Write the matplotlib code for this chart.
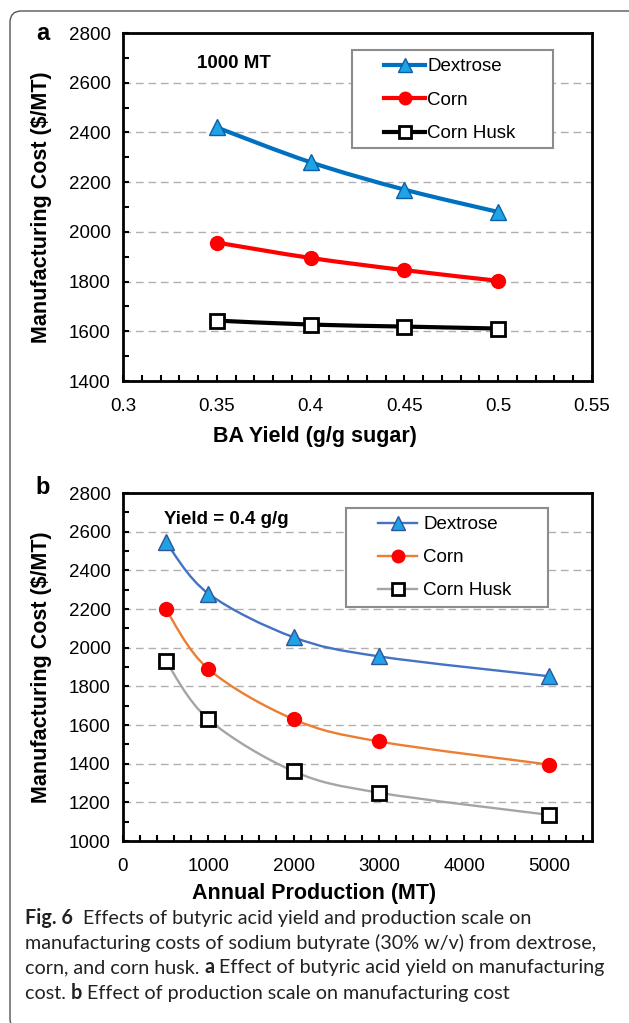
import numpy as np
import matplotlib
matplotlib.use('Agg')
import matplotlib.pyplot as plt
from matplotlib.patches import FancyBboxPatch, Rectangle, PathPatch
from matplotlib.path import Path
from matplotlib.lines import Line2D
from matplotlib.ticker import MultipleLocator, FuncFormatter

plt.rcParams['font.family'] = ['Liberation Sans', 'DejaVu Sans']

# 图 a 的数据: 产率 vs 成本
yield_x = [0.35, 0.40, 0.45, 0.50]
yield_dextrose = [2420, 2280, 2170, 2080]
yield_corn = [1957, 1895, 1846, 1803]
yield_husk = [1643, 1627, 1619, 1611]

# 图 b 的数据: 年产量 vs 成本
scale_x = [500, 1000, 2000, 3000, 5000]
scale_dextrose = [2548, 2280, 2054, 1955, 1852]
scale_corn = [2200, 1890, 1630, 1515, 1395]
scale_husk = [1933, 1630, 1361, 1250, 1135]

series_names = ['Dextrose', 'Corn', 'Corn Husk']

W, H = 629, 1023
fig = plt.figure(figsize=(W / 100, H / 100), dpi=100)


def fx(px):
    return px / W


def fy(py):
    return 1 - py / H


def smooth_path(x, y):
    # 类似 Excel 的平滑折线
    pts = np.column_stack([x, y]).astype(float)
    n = len(pts)
    verts = [pts[0]]
    codes = [Path.MOVETO]
    for i in range(n - 1):
        p0 = pts[max(i - 1, 0)]
        p1 = pts[i]
        p2 = pts[i + 1]
        p3 = pts[min(i + 2, n - 1)]
        verts += [p1 + (p2 - p0) / 6.0, p2 - (p3 - p1) / 6.0, p2]
        codes += [Path.CURVE4] * 3
    return Path(verts, codes)


def style_axes(ax, xlim, ylim, xmaj, xmin, ymaj, ymin, xfmt):
    ax.set_xlim(*xlim)
    ax.set_ylim(*ylim)
    ax.xaxis.set_major_locator(MultipleLocator(xmaj))
    ax.xaxis.set_minor_locator(MultipleLocator(xmin))
    ax.yaxis.set_major_locator(MultipleLocator(ymaj))
    ax.yaxis.set_minor_locator(MultipleLocator(ymin))
    ax.xaxis.set_major_formatter(FuncFormatter(xfmt))
    ax.tick_params(which='both', direction='in', length=4, width=1.5,
                   top=False, right=False, labelsize=13.5, color='black')
    ax.tick_params(axis='y', pad=9)
    ax.tick_params(axis='x', pad=12)
    ax.yaxis.grid(True, which='major', ls=(0, (5.5, 3.5)), color='#b0b0b0', lw=1)
    ax.set_axisbelow(True)
    for s in ax.spines.values():
        s.set_linewidth(2)
        s.set_zorder(5)


def legend_box(ax, x0, y0, x1, y1):
    ax.add_patch(Rectangle((fx(x0), fy(y1)), fx(x1) - fx(x0), fy(y0) - fy(y1),
                           transform=fig.transFigure, fc='white', ec='#8c8c8c', lw=1.5,
                           zorder=6, clip_on=False))


# 外框
border = FancyBboxPatch((fx(10), fy(1030)), fx(700), fy(11) - fy(1030),
                        boxstyle='round,pad=0,rounding_size=0.018',
                        transform=fig.transFigure, fc='none', ec='#555555', lw=1,
                        mutation_aspect=W / H)
fig.patches.append(border)

# ---------- 图 a ----------
ax1 = fig.add_axes([fx(123), fy(381), fx(592) - fx(123), fy(33) - fy(381)])
style_axes(ax1, (0.3, 0.55), (1400, 2800), 0.05, 0.01, 200, 100,
           lambda v, p: '%g' % round(v, 2))

styles_a = [
    dict(color='#0070C0', marker='^', ms=11, mfc='#1FA3E6', mec='#0B5FA5', mew=1),
    dict(color='#FF0000', marker='o', ms=10, mfc='#FF0000', mec='#FF0000', mew=1),
    dict(color='#000000', marker='s', ms=9.5, mfc='white', mec='black', mew=2),
]
handles_a = []
for yy, st, name in zip([yield_dextrose, yield_corn, yield_husk], styles_a, series_names):
    ax1.add_patch(PathPatch(smooth_path(yield_x, yy), fill=False, ec=st['color'],
                            lw=3, zorder=3, capstyle='round'))
    ax1.plot(yield_x, yy, ls='none', marker=st['marker'], ms=st['ms'], mfc=st['mfc'],
             mec=st['mec'], mew=st['mew'], zorder=4, clip_on=False)
    handles_a.append(Line2D([], [], color=st['color'], lw=3, marker=st['marker'],
                            ms=st['ms'] - 1, mfc=st['mfc'], mec=st['mec'], mew=st['mew']))

legend_box(ax1, 352, 50, 553, 148)
leg1 = ax1.legend(handles_a, series_names, loc='upper left',
                  bbox_to_anchor=(fx(384), fy(58)), bbox_transform=fig.transFigure,
                  frameon=False, borderpad=0, borderaxespad=0, handlelength=2.2,
                  handletextpad=0.1, labelspacing=0.88, fontsize=13.5)
leg1.set_zorder(7)

ax1.set_xlabel('BA Yield (g/g sugar)', fontsize=15.5, fontweight='bold')
ax1.xaxis.set_label_coords(0.5, fy(436), transform=fig.transFigure)
ax1.xaxis.label.set_va('center')
fig.text(fx(42), fy(207), 'Manufacturing Cost ($/MT)', rotation=90, ha='center',
         va='center', fontsize=15.5, fontweight='bold')
fig.text(fx(197), fy(63), '1000 MT', fontsize=13.5, fontweight='bold', va='center')
fig.text(fx(43), fy(34), 'a', fontsize=17, fontweight='bold', ha='center', va='center')

# ---------- 图 b ----------
ax2 = fig.add_axes([fx(123), fy(841), fx(592) - fx(123), fy(493) - fy(841)])
style_axes(ax2, (0, 5500), (1000, 2800), 1000, 200, 200, 100,
           lambda v, p: '%d' % v if v <= 5000 else '')

styles_b = [
    dict(color='#4472C4', marker='^', ms=11, mfc='#1FA3E6', mec='#2F5597', mew=1),
    dict(color='#ED7D31', marker='o', ms=10, mfc='#FF0000', mec='#FF0000', mew=1),
    dict(color='#A5A5A5', marker='s', ms=9.5, mfc='white', mec='black', mew=2),
]
handles_b = []
for yy, st, name in zip([scale_dextrose, scale_corn, scale_husk], styles_b, series_names):
    ax2.add_patch(PathPatch(smooth_path(scale_x, yy), fill=False, ec=st['color'],
                            lw=1.7, zorder=3, capstyle='round'))
    ax2.plot(scale_x, yy, ls='none', marker=st['marker'], ms=st['ms'], mfc=st['mfc'],
             mec=st['mec'], mew=st['mew'], zorder=4, clip_on=False)
    handles_b.append(Line2D([], [], color=st['color'], lw=1.7, marker=st['marker'],
                            ms=st['ms'] - 1, mfc=st['mfc'], mec=st['mec'], mew=st['mew']))

legend_box(ax2, 346, 508, 548, 607)
leg2 = ax2.legend(handles_b, series_names, loc='upper left',
                  bbox_to_anchor=(fx(378), fy(516)), bbox_transform=fig.transFigure,
                  frameon=False, borderpad=0, borderaxespad=0, handlelength=2.1,
                  handletextpad=0.3, labelspacing=0.85, fontsize=13.5)
leg2.set_zorder(7)

ax2.set_xlabel('Annual Production (MT)', fontsize=15.5, fontweight='bold')
ax2.xaxis.set_label_coords(0.5, fy(894), transform=fig.transFigure)
ax2.xaxis.label.set_va('center')
fig.text(fx(42), fy(667), 'Manufacturing Cost ($/MT)', rotation=90, ha='center',
         va='center', fontsize=15.5, fontweight='bold')
fig.text(fx(164), fy(520), 'Yield = 0.4 g/g', fontsize=13.5, fontweight='bold', va='center')
fig.text(fx(43), fy(488), 'b', fontsize=17, fontweight='bold', ha='center', va='center')

# ---------- 图注 ----------
cap_font = ['Lato', 'DejaVu Sans']
cap_size = 14.2
cap_lines = [
    [('Fig. 6', True), ('  Effects of butyric acid yield and production scale on', False)],
    [('manufacturing costs of sodium butyrate (30% w/v) from dextrose,', False)],
    [('corn, and corn husk. ', False), ('a', True),
     (' Effect of butyric acid yield on manufacturing', False)],
    [('cost. ', False), ('b', True), (' Effect of production scale on manufacturing cost', False)],
]
cap_y = [924, 949, 973, 999]
renderer = fig.canvas.get_renderer()
for parts, py in zip(cap_lines, cap_y):
    x = 25.0
    for txt, bold in parts:
        t = fig.text(fx(x), fy(py), txt, va='baseline', ha='left', fontsize=cap_size,
                     family=cap_font, color='#222222',
                     fontweight='bold' if bold else 'normal')
        x = t.get_window_extent(renderer).x1

fig.savefig('out.png', dpi=100)
